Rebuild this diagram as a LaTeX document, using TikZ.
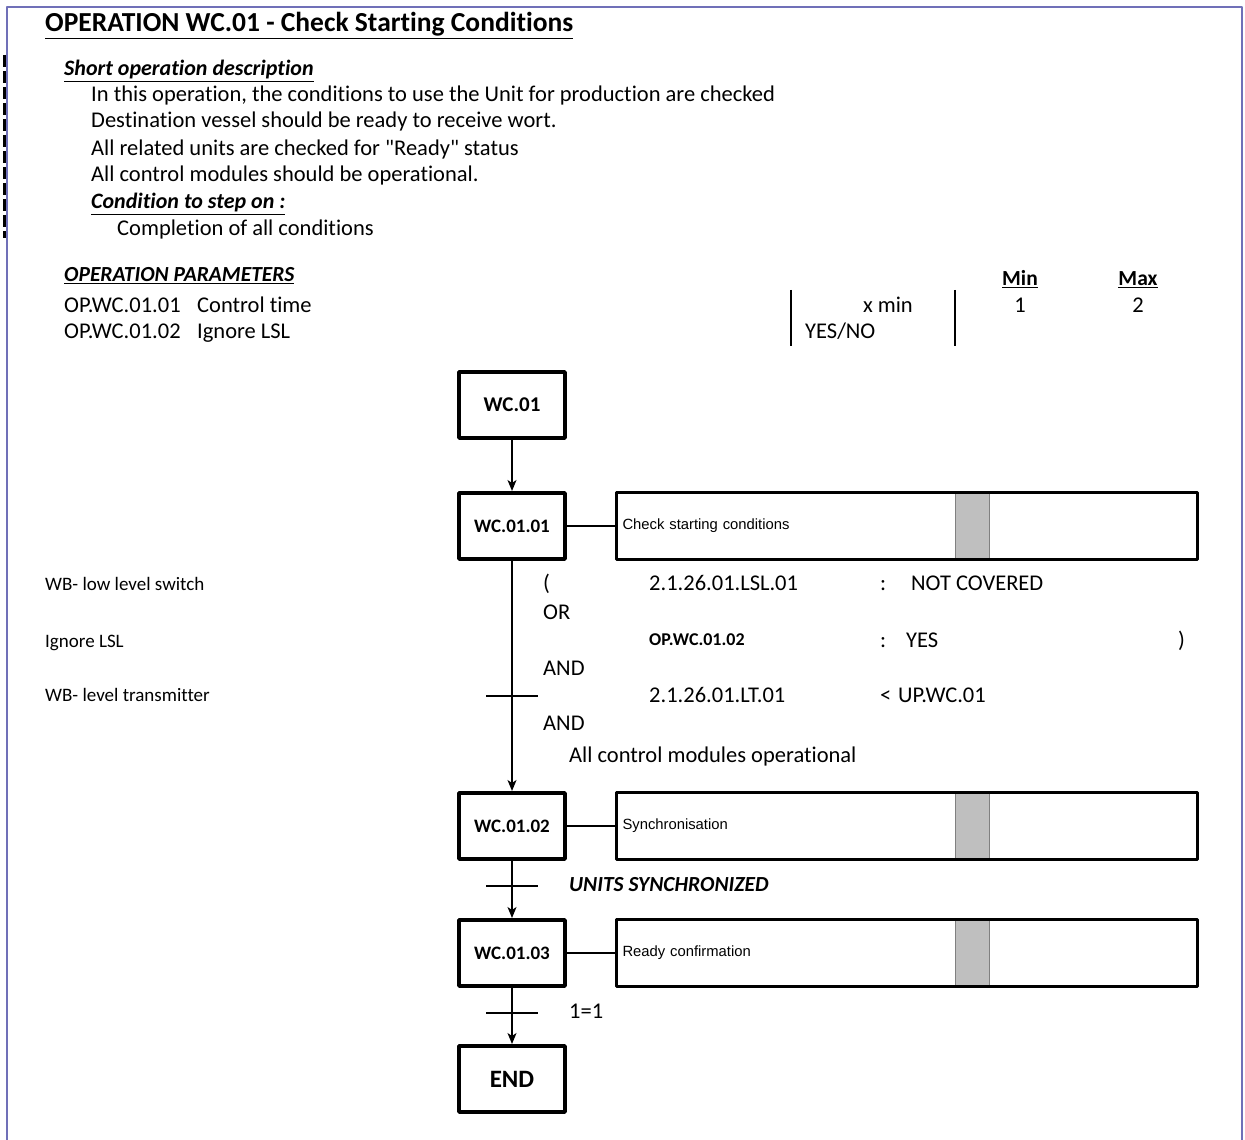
\documentclass[tikz,border=0pt]{standalone}
\usepackage{fontspec}
\setmainfont{Carlito}[Ligatures={TeXOff,CommonOff}]
\newfontfamily\actfont{Liberation Sans}
\usetikzlibrary{arrows.meta}
\usetikzlibrary{shapes}

\begin{document}
\begin{tikzpicture}[>={Stealth[length=11bp,width=9bp,inset=3bp]},line join=bevel,
  body/.style={anchor=base west,inner sep=0pt,font=\fontsize{22.5bp}{26bp}\selectfont},
  small/.style={anchor=base west,inner sep=0pt,font=\fontsize{19bp}{22bp}\selectfont},
  head/.style={anchor=base west,inner sep=0pt,font=\fontsize{22bp}{26bp}\selectfont\bfseries\itshape},
  stepbox/.style={draw,rectangle,line width=4bp,minimum width=106bp,minimum height=66bp,inner sep=0pt,font=\fontsize{19bp}{22bp}\selectfont\bfseries},
  actbox/.style={draw,rectangle,line width=3bp,minimum width=581bp,minimum height=67bp,text width=569bp,align=left,inner xsep=6bp,font=\actfont\fontsize{14.8bp}{16bp}\selectfont},
  stripbox/.style={draw=gray,fill=stripcol,rectangle,line width=1bp,minimum width=34bp,minimum height=67bp,inner sep=0pt},
  link/.style={line width=1.6bp},
  bar/.style={line width=1.6bp}]
\useasboundingbox (0bp,0bp) rectangle (1245bp,1140bp);
%%
\begin{scope}
  \definecolor{framecol}{rgb}{0.44,0.44,0.72};
  \draw [framecol,line width=1.5bp] (7bp,0bp) -- (7bp,1133bp) -- (1242bp,1133bp) -- (1242bp,0bp);
  \draw [black,line width=3bp,dash pattern=on 12bp off 4bp] (4bp,1085bp) -- (4bp,902bp);
\end{scope}
%% header
  \node (title) at (45bp,1108bp) [body,font=\fontsize{27.5bp}{30bp}\selectfont\bfseries] {\underline{OPERATION WC.01 - Check Starting Conditions}};
  \node (descr) at (64bp,1064bp) [head] {\underline{Short operation description}};
  \node (line1) at (91bp,1038bp) [body] {In this operation, the conditions to use the Unit for production are checked};
  \node (line2) at (91bp,1012bp) [body] {Destination vessel should be ready to receive wort.};
  \node (line3) at (91bp,984bp) [body] {All related units are checked for "Ready" status};
  \node (line4) at (91bp,958bp) [body] {All control modules should be operational.};
  \node (cond) at (91bp,931bp) [head] {\underline{Condition to step on :}};
  \node (compl) at (117bp,904bp) [body] {Completion of all conditions};
%% parameters
  \node (params) at (64bp,858bp) [head,font=\fontsize{21.5bp}{26bp}\selectfont\bfseries\itshape] {\underline{OPERATION PARAMETERS}};
  \node (min) at (1020bp,854bp) [body,anchor=base,font=\fontsize{21.5bp}{26bp}\selectfont\bfseries] {\underline{Min}};
  \node (max) at (1138bp,854bp) [body,anchor=base,font=\fontsize{21.5bp}{26bp}\selectfont\bfseries] {\underline{Max}};
  \node (p1id) at (64bp,827bp) [body] {OP.WC.01.01};
  \node (p1name) at (197bp,827bp) [body] {Control time};
  \node (p1unit) at (913bp,827bp) [body,anchor=base east] {x min};
  \node (p1min) at (1020bp,827bp) [body,anchor=base] {1};
  \node (p1max) at (1138bp,827bp) [body,anchor=base] {2};
  \node (p2id) at (64bp,801bp) [body] {OP.WC.01.02};
  \node (p2name) at (197bp,801bp) [body] {Ignore LSL};
  \node (p2unit) at (805bp,801bp) [body] {YES/NO};
  \draw [line width=1.2bp] (791bp,850bp) -- (791bp,794bp);
  \draw [line width=1.2bp] (955bp,850bp) -- (955bp,794bp);
%% steps
  \definecolor{stripcol}{rgb}{0.75,0.75,0.75};
  \node (S0) at (512bp,735bp) [stepbox,font=\fontsize{21bp}{24bp}\selectfont\bfseries] {WC.01};
  \node (S1) at (512bp,614bp) [stepbox] {WC.01.01};
  \node (S2) at (512bp,314bp) [stepbox] {WC.01.02};
  \node (S3) at (512bp,187bp) [stepbox] {WC.01.03};
  \node (END) at (512bp,61bp) [stepbox,font=\fontsize{25bp}{28bp}\selectfont\bfseries] {END};
  \node (G1) at (972bp,614bp) [stripbox] {};
  \node (G2) at (972bp,314bp) [stripbox] {};
  \node (G3) at (972bp,187bp) [stripbox] {};
  \node (A1) at (907bp,614bp) [actbox] {Check starting conditions};
  \node (A2) at (907bp,314bp) [actbox] {Synchronisation};
  \node (A3) at (907bp,187bp) [actbox] {Ready confirmation};
  \coordinate (T1) at (512bp,444bp);
  \coordinate (T2) at (512bp,254bp);
  \coordinate (T3) at (512bp,127bp);
%% transition labels
  \node (lsw) at (45bp,549bp) [small] {WB- low level switch};
  \node (lign) at (45bp,492bp) [small] {Ignore LSL};
  \node (ltx) at (45bp,438bp) [small] {WB- level transmitter};
  \node (open) at (543bp,549bp) [body] {(};
  \node (lsl) at (649bp,549bp) [body] {2.1.26.01.LSL.01};
  \node (c1) at (880bp,549bp) [body] {:};
  \node (notcov) at (911bp,549bp) [body] {NOT COVERED};
  \node (or) at (543bp,520bp) [body] {OR};
  \node (opwc) at (649bp,494bp) [small,font=\fontsize{18bp}{22bp}\selectfont\bfseries] {OP.WC.01.02};
  \node (c2) at (880bp,492bp) [body] {:};
  \node (yes) at (906bp,492bp) [body] {YES};
  \node (close) at (1178bp,492bp) [body] {)};
  \node (and1) at (543bp,464bp) [body] {AND};
  \node (lt) at (649bp,437bp) [body] {2.1.26.01.LT.01};
  \node (lt2) at (880bp,437bp) [body] {<};
  \node (upwc) at (898bp,437bp) [body] {UP.WC.01};
  \node (and2) at (543bp,409bp) [body] {AND};
  \node (allcm) at (569bp,377bp) [body] {All control modules operational};
  \node (units) at (569bp,248bp) [head,font=\fontsize{21.5bp}{26bp}\selectfont\bfseries\itshape] {UNITS SYNCHRONIZED};
  \node (one) at (569bp,121bp) [body] {1=1};
%% connectors
  \draw [->,link] (S0) -- (S1);
  \draw [->,link] (S1) -- (S2);
  \draw [->,link] (S2) -- (S3);
  \draw [->,link] (S3) -- (END);
  \draw [bar] ([xshift=-26bp]T1) -- ([xshift=26bp]T1);
  \draw [bar] ([xshift=-26bp]T2) -- ([xshift=26bp]T2);
  \draw [bar] ([xshift=-26bp]T3) -- ([xshift=26bp]T3);
  \draw [link] (S1) -- (A1);
  \draw [link] (S2) -- (A2);
  \draw [link] (S3) -- (A3);
%
\end{tikzpicture}
\end{document}
